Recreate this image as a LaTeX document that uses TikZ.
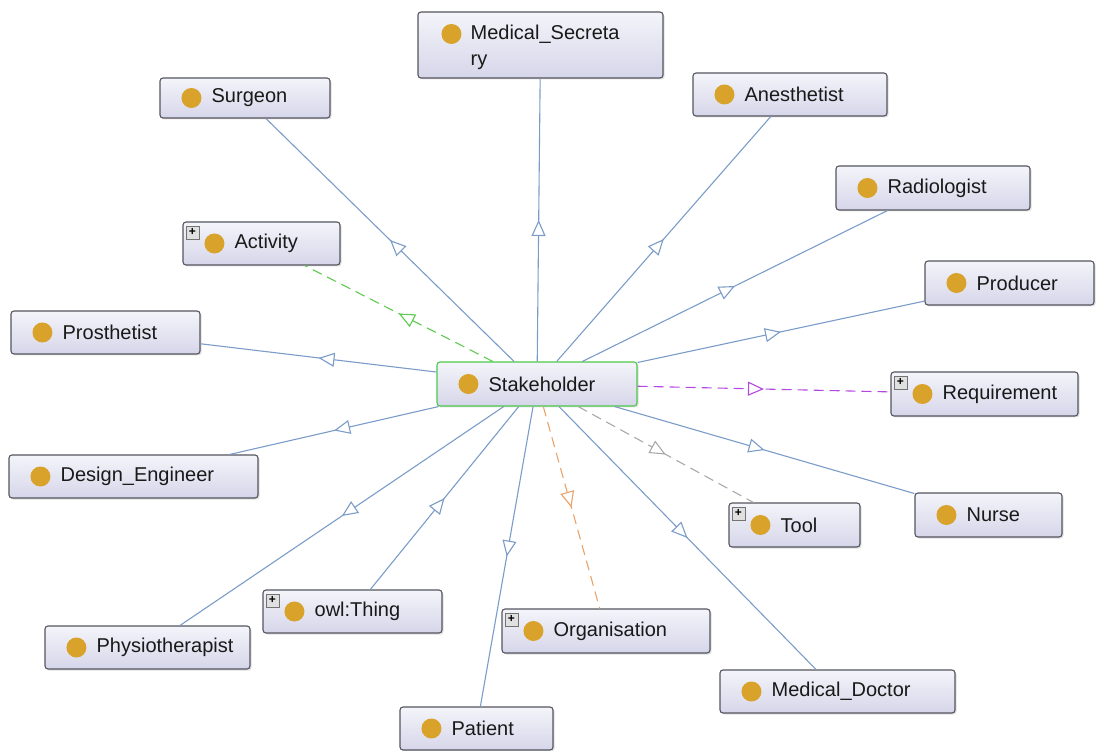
\documentclass[tikz,border=0pt]{standalone}
\usepackage{fontspec}
\setmainfont{Liberation Sans}
\usetikzlibrary{arrows.meta,positioning,shadows,decorations.markings}
\definecolor{onto-edge}{HTML}{7B9CC8}
\definecolor{onto-border}{HTML}{55555F}
\definecolor{onto-dot}{HTML}{D9A22A}
\definecolor{onto-top}{HTML}{F4F4FA}
\definecolor{onto-bottom}{HTML}{D6D6EA}
\definecolor{onto-green}{HTML}{5DCB4E}
\definecolor{onto-purple}{HTML}{B447E0}
\definecolor{onto-grey}{HTML}{A9A9A9}
\definecolor{onto-orange}{HTML}{E9A36A}
\definecolor{onto-select}{HTML}{4CC94C}

\tikzset{
  classbox/.style={draw=onto-border, line width=1.1pt, rounded corners=3pt,
    top color=onto-top, bottom color=onto-bottom, inner sep=0pt,
    drop shadow={opacity=0.25, shadow xshift=1.5pt, shadow yshift=-1.5pt}},
  classdot/.style={circle, fill=onto-dot, minimum size=20pt, inner sep=0pt},
  classtext/.style={anchor=west, inner sep=0pt, font=\fontsize{20}{26}\selectfont, text=black!90},
  plusbox/.style={draw=black!55, fill=black!12, minimum size=13pt, inner sep=0pt,
    font=\fontsize{12}{12}\selectfont\bfseries},
  midarrow/.style={postaction={decorate}, decoration={markings,
    mark=at position 0.5 with {\arrow{Triangle[length=16pt,width=14pt,fill=white,line width=1.1pt]}}}},
  isa/.style={draw=onto-edge, line width=1.1pt, midarrow},
  relation/.style={line width=1.1pt, dash pattern=on 10pt off 6pt, midarrow}
}

% [extra style] name, left, top, right, bottom, text
\newcommand{\classnode}[7][]{%
  \node[classbox, #1, minimum width={(#5-#3)*1pt}, minimum height={(#6-#4)*1pt}] (#2) at ({(#3+#5)/2},{(#4+#6)/2}) {};
  \node[classdot] at ([xshift=32pt]#2.west) {};
  \node[classtext] at ([xshift=52pt]#2.west) {#7};
}
\newcommand{\expandmark}[1]{%
  \node[plusbox] at ([xshift=10pt,yshift=-11pt]#1.north west) {+};
}

\begin{document}
\begin{tikzpicture}[x=1pt,y=-1pt]
  \useasboundingbox (0,0) rectangle (1096,751);

  % classes
  \node[classbox, minimum width=245pt, minimum height=66pt] (secretary) at (540.5,45) {};
  \node[classdot] at ([xshift=34pt,yshift=11pt]secretary.west) {};
  \node[classtext, anchor=north west, align=left] at ([xshift=53pt,yshift=-13pt]secretary.north west)
    {Medical\_Secreta\\ry};
  \classnode{surgeon}{160}{78}{330}{118}{Surgeon}
  \classnode{anesthetist}{693}{73}{887}{116}{Anesthetist}
  \classnode{radiologist}{836}{166}{1030}{210}{Radiologist}
  \classnode{activity}{183}{222}{340}{265}{Activity}
  \expandmark{activity}
  \classnode{producer}{925}{261}{1094}{305}{Producer}
  \classnode{prosthetist}{11}{311}{200}{354}{Prosthetist}
  \classnode{requirement}{891}{372}{1078}{416}{Requirement}
  \expandmark{requirement}
  \classnode{engineer}{9}{455}{258}{498}{Design\_Engineer}
  \classnode{nurse}{915}{493}{1062}{537}{Nurse}
  \classnode{tool}{729}{503}{860}{547}{Tool}
  \expandmark{tool}
  \classnode{thing}{263}{590}{442}{633}{owl:Thing}
  \expandmark{thing}
  \classnode{organisation}{502}{609}{710}{653}{Organisation}
  \expandmark{organisation}
  \classnode{physio}{45}{626}{250}{669}{Physiotherapist}
  \classnode{doctor}{720}{670}{955}{713}{Medical\_Doctor}
  \classnode{patient}{400}{707}{553}{750}{Patient}
  \classnode[draw=onto-select]{stakeholder}{437}{362}{637}{406}{Stakeholder}

  % subclass edges
  \foreach \sub in {surgeon,secretary,anesthetist,radiologist,producer,prosthetist,
                    engineer,physio,patient,doctor,nurse}
    \draw[isa] (stakeholder) -- (\sub);
  \draw[isa] (thing) -- (stakeholder);

  % property edges
  \draw[relation, draw=onto-green] (stakeholder) -- (activity);
  \draw[relation, draw=onto-purple] (stakeholder) -- (requirement);
  \draw[relation, draw=onto-grey] (stakeholder) -- (tool);
  \draw[relation, draw=onto-orange] (stakeholder) -- (organisation);
\end{tikzpicture}
\end{document}
